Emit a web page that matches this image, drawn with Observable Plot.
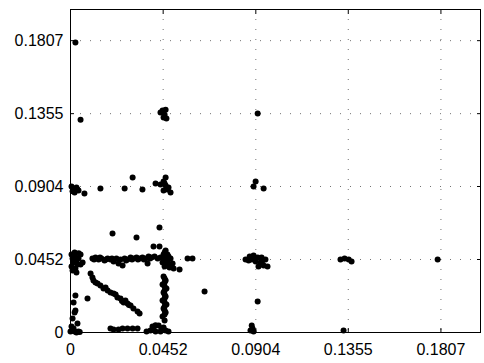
<!DOCTYPE html>
<html>
<head>
<meta charset="utf-8">
<script src="https://cdn.jsdelivr.net/npm/d3@7"></script>
<script src="https://cdn.jsdelivr.net/npm/@observablehq/plot@0.6"></script>
<style>
  html, body { margin: 0; padding: 0; background: #fff; }
  #chart svg { display: block; }
</style>
</head>
<body>
<div id="chart"></div>
<script>
// tick values / labels
const tickValues = [0, 0.0452, 0.0904, 0.1355, 0.1807];
const tickLabels = ["0", "0.0452", "0.0904", "0.1355", "0.1807"];

// point clusters, [x, y]
const originCluster = [[0,0.0006],[0.001,0.0012],[0.002,0.0006],[0.0029,0],[0.0039,0.0006],[0.0015,0.0025],[0.0005,0.0037],[0.0045,0.0003]];
const leftAxisLow = [[0.0034,0.0056],[0.001,0.0087],[0.002,0.0124],[0.0024,0.0136],[0.0015,0.0186],[0.0024,0.0229],[0.0083,0.021]];
const leftBlob452 = [[0.0005,0.0483],[0.001,0.0458],[0.0015,0.0433],[0.0005,0.0409],[0.002,0.047],[0.0029,0.0446],[0.0039,0.0458],[0.0049,0.0483],[0.001,0.0384],[0.0024,0.0396],[0.0049,0.0421],[0.0059,0.0433],[0.002,0.0495],[0.0029,0.0371],[0.0034,0.0421],[0.004,0.049],[0.0015,0.0465]];
const band452 = [[0.0107,0.0458],[0.0122,0.0464],[0.0137,0.0452],[0.0151,0.0458],[0.0166,0.0446],[0.0181,0.0458],[0.0195,0.0452],[0.021,0.044],[0.0224,0.0458],[0.0234,0.0427],[0.0244,0.0452],[0.0254,0.0415],[0.0264,0.0458],[0.0278,0.0452],[0.0293,0.0464],[0.0307,0.0458],[0.0322,0.0464],[0.0337,0.0458],[0.0351,0.0464],[0.0366,0.0458],[0.0376,0.0427],[0.0381,0.047],[0.0395,0.0464],[0.041,0.047],[0.0115,0.0452],[0.0144,0.0464],[0.0173,0.0452],[0.0202,0.0458],[0.0271,0.0446],[0.03,0.0452],[0.0329,0.0452],[0.0358,0.0452],[0.0388,0.0458]];
const hub452 = [[0.0464,0.0508],[0.0454,0.0483],[0.0473,0.0483],[0.0439,0.0464],[0.0464,0.0458],[0.0488,0.0458],[0.0449,0.0433],[0.0473,0.0433],[0.0498,0.0427],[0.0459,0.0409],[0.0483,0.0402],[0.0503,0.0396],[0.0425,0.0458],[0.0459,0.0495],[0.0478,0.047],[0.0454,0.0446],[0.0488,0.0421],[0.0468,0.042]];
const scattered = [[0.0405,0.0532],[0.0434,0.0532],[0.0532,0.039],[0.0571,0.0458],[0.0595,0.0458],[0.0205,0.0613],[0.0322,0.0588],[0.0434,0.065],[0.0654,0.0254],[0.0913,0.0192],[0.1332,0.0012],[0.1791,0.0452],[0.0024,0.1795],[0.0049,0.1318],[0.0913,0.1356]];
const column452 = [[0.0454,0.0347],[0.0464,0.0322],[0.0449,0.0297],[0.0468,0.0272],[0.0454,0.0248],[0.0464,0.0223],[0.0449,0.0198],[0.0468,0.0173],[0.0454,0.0149],[0.0464,0.0124],[0.0449,0.0099],[0.0459,0.0074],[0.0459,0.0334],[0.0459,0.031],[0.0459,0.0285],[0.0459,0.026],[0.0459,0.0235],[0.0459,0.021],[0.0459,0.0186],[0.0459,0.0161],[0.0459,0.0136],[0.0459,0.0111]];
const bottomBlob452 = [[0.039,0.0012],[0.0415,0.0006],[0.0439,0.0006],[0.0464,0.0012],[0.04,0.0037],[0.043,0.0043],[0.0454,0.0031],[0.0371,0.0006],[0.0478,0.0006],[0.0405,0.0025],[0.0444,0.0025],[0.0415,0.0045]];
const bottomRow = [[0.0195,0.0025],[0.021,0.0019],[0.0234,0.0019],[0.0254,0.0025],[0.0278,0.0025],[0.0303,0.0025],[0.0327,0.0025]];
const diagonal = [[0.0098,0.0365],[0.0107,0.034],[0.0112,0.0322],[0.0132,0.0303],[0.0146,0.0291],[0.0161,0.0272],[0.0181,0.026],[0.0195,0.0248],[0.021,0.0241],[0.0229,0.0217],[0.0244,0.021],[0.0259,0.0186],[0.0278,0.018],[0.0293,0.0167],[0.0307,0.0149],[0.0327,0.013],[0.0337,0.0118],[0.0268,0.0198],[0.022,0.0235],[0.0171,0.0279],[0.0122,0.031],[0.0251,0.0195],[0.0285,0.017]];
const row904 = [[0.0005,0.0904],[0.0015,0.0885],[0.0029,0.0898],[0.0039,0.0879],[0.002,0.0867],[0.0068,0.086],[0.0146,0.0891],[0.0264,0.0891],[0.0303,0.0959],[0.0351,0.0885],[0.001,0.0875],[0.0034,0.0885]];
const hub904 = [[0.0464,0.0959],[0.0454,0.0935],[0.0439,0.0916],[0.0415,0.0922],[0.0464,0.091],[0.0473,0.0885],[0.0488,0.0867],[0.0454,0.0879],[0.0459,0.0922],[0.0478,0.0898]];
const hub1355 = [[0.0449,0.1374],[0.0464,0.138],[0.0439,0.1362],[0.0459,0.1349],[0.0468,0.1325],[0.0454,0.1331]];
const near904 = [[0.0903,0.0935],[0.0893,0.0904],[0.0942,0.0891]];
const cluster904_452 = [[0.0854,0.0452],[0.0874,0.047],[0.0893,0.0477],[0.0913,0.0464],[0.0932,0.0464],[0.0951,0.0452],[0.0869,0.0446],[0.0903,0.044],[0.0927,0.0433],[0.0917,0.0409],[0.0942,0.0415],[0.0961,0.0409],[0.0884,0.0452],[0.0903,0.0458],[0.0937,0.0446]];
const bottom904 = [[0.0878,0.0012],[0.0893,0.0006],[0.0884,0.0043],[0.0888,0.0025]];
const cluster1355_452 = [[0.1317,0.0452],[0.1337,0.0458],[0.1357,0.0452],[0.1371,0.044]];

const points = [].concat(originCluster, leftAxisLow, leftBlob452, band452, hub452, scattered,
  column452, bottomBlob452, bottomRow, diagonal, row904, hub904, hub1355, near904,
  cluster904_452, bottom904, cluster1355_452);

const fmt = d => tickLabels[tickValues.indexOf(d)] ?? String(d);

const chart = Plot.plot({
  width: 484,
  height: 363,
  marginLeft: 70,
  marginRight: 4,
  marginTop: 9,
  marginBottom: 31,
  style: { fontFamily: "'Liberation Sans', Arial, Helvetica, sans-serif", fontSize: "16px", color: "black", background: "white" },
  x: { domain: [0, 0.2] },
  y: { domain: [0, 0.2] },
  marks: [
    Plot.ruleX(tickValues.slice(1), { stroke: "#000", strokeOpacity: 0.55, strokeDasharray: "1,9" }),
    Plot.ruleY(tickValues.slice(1), { stroke: "#000", strokeOpacity: 0.55, strokeDasharray: "1,9" }),
    Plot.axisX(tickValues, { anchor: "bottom", tickSize: 0, tickPadding: 11, tickFormat: fmt, label: null, fontSize: 16 }),
    Plot.axisY(tickValues, { anchor: "left", tickSize: 0, tickPadding: 7, tickFormat: fmt, label: null, fontSize: 16 }),
    Plot.axisX(tickValues, { anchor: "bottom", tickSize: -4, text: null, label: null }),
    Plot.axisX(tickValues, { anchor: "top", tickSize: -4, text: null, label: null }),
    Plot.axisY(tickValues, { anchor: "left", tickSize: -4, text: null, label: null }),
    Plot.axisY(tickValues, { anchor: "right", tickSize: -4, text: null, label: null }),
    Plot.dot(points, { x: d => d[0], y: d => d[1], r: 3, fill: "black", stroke: "none" }),
    Plot.frame({ stroke: "black", strokeWidth: 1 })
  ]
});
document.getElementById("chart").appendChild(chart);
</script>
</body>
</html>
